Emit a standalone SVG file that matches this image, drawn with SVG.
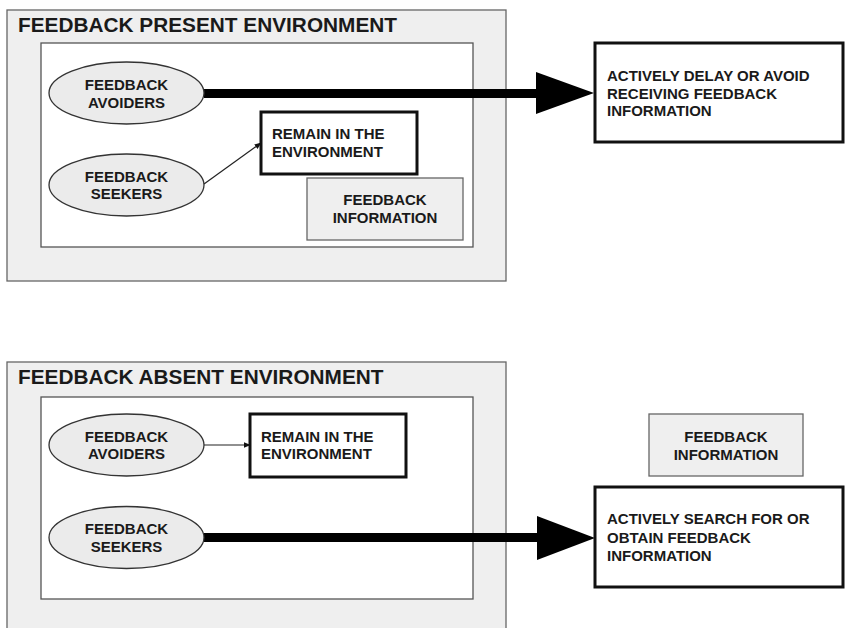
<svg xmlns="http://www.w3.org/2000/svg" width="845" height="628" viewBox="0 0 845 628">
<defs>
<style>
text{font-family:"Liberation Sans",Arial,sans-serif;font-weight:bold;fill:#1a1a1a}
.title{font-size:20.8px}
.t{font-size:15px}
.env{fill:#efefef;stroke:#666;stroke-width:1.3}
.inner{fill:#fff;stroke:#555;stroke-width:1.3}
.ell{fill:#ebebeb;stroke:#333;stroke-width:1.3}
.box{fill:#fff;stroke:#111;stroke-width:3}
.info{fill:#efefef;stroke:#666;stroke-width:1.3}
.thick{stroke:#000;stroke-width:9;fill:none}
.thin{stroke:#222;stroke-width:1.2;fill:none}
</style>
<marker id="sm" viewBox="0 0 10 10" refX="9" refY="5" markerWidth="7" markerHeight="7" markerUnits="userSpaceOnUse" orient="auto">
<path d="M0,1 L10,5 L0,9 z" fill="#111"/>
</marker>
</defs>
<rect width="845" height="628" fill="#fff"/>

<g id="present-env">
<rect class="env" x="7" y="10" width="499" height="271"/>
<text class="title" x="18" y="32">FEEDBACK PRESENT ENVIRONMENT</text>
<rect class="inner" x="41" y="43" width="432" height="204"/>
</g>
<g id="absent-env">
<rect class="env" x="7" y="362" width="499" height="270"/>
<text class="title" x="18" y="384">FEEDBACK ABSENT ENVIRONMENT</text>
<rect class="inner" x="41" y="397" width="432" height="202"/>
</g>

<g id="connectors">
<line class="thick" x1="204" y1="93.5" x2="538" y2="93.5"/>
<polygon points="536,72 594,93 536,114" fill="#000"/>
<line class="thin" x1="204" y1="184" x2="261" y2="143" marker-end="url(#sm)"/>
<line class="thin" x1="204" y1="445" x2="250" y2="445" marker-end="url(#sm)"/>
<line class="thick" x1="204" y1="537.5" x2="539" y2="537.5"/>
<polygon points="537,516 595,538 537,560" fill="#000"/>
</g>

<g id="p-avoiders">
<ellipse class="ell" cx="126.5" cy="93" rx="77.5" ry="31"/>
<text class="t" x="126.5" y="90" text-anchor="middle">FEEDBACK</text>
<text class="t" x="126.5" y="108" text-anchor="middle">AVOIDERS</text>
</g>
<g id="p-seekers">
<ellipse class="ell" cx="126.5" cy="185" rx="77.5" ry="31"/>
<text class="t" x="126.5" y="182" text-anchor="middle">FEEDBACK</text>
<text class="t" x="126.5" y="199" text-anchor="middle">SEEKERS</text>
</g>
<g id="p-remain">
<rect class="box" x="261" y="112" width="156" height="62"/>
<text class="t" x="272" y="139">REMAIN IN THE</text>
<text class="t" x="272" y="157">ENVIRONMENT</text>
</g>
<g id="p-info">
<rect class="info" x="307" y="178" width="156" height="62"/>
<text class="t" x="385" y="205" text-anchor="middle">FEEDBACK</text>
<text class="t" x="385" y="223" text-anchor="middle">INFORMATION</text>
</g>
<g id="p-avoid-box">
<rect class="box" x="595" y="43" width="248" height="99"/>
<text class="t" x="607" y="81">ACTIVELY DELAY OR AVOID</text>
<text class="t" x="607" y="98.5">RECEIVING FEEDBACK</text>
<text class="t" x="607" y="116">INFORMATION</text>
</g>

<g id="a-avoiders">
<ellipse class="ell" cx="126.5" cy="445" rx="77.5" ry="31"/>
<text class="t" x="126.5" y="442" text-anchor="middle">FEEDBACK</text>
<text class="t" x="126.5" y="459" text-anchor="middle">AVOIDERS</text>
</g>
<g id="a-seekers">
<ellipse class="ell" cx="126.5" cy="537.5" rx="77.5" ry="31"/>
<text class="t" x="126.5" y="534" text-anchor="middle">FEEDBACK</text>
<text class="t" x="126.5" y="552" text-anchor="middle">SEEKERS</text>
</g>
<g id="a-remain">
<rect class="box" x="250" y="414" width="156" height="63"/>
<text class="t" x="261" y="442">REMAIN IN THE</text>
<text class="t" x="261" y="459">ENVIRONMENT</text>
</g>
<g id="a-info">
<rect class="info" x="649" y="414" width="154" height="62"/>
<text class="t" x="726" y="442" text-anchor="middle">FEEDBACK</text>
<text class="t" x="726" y="460" text-anchor="middle">INFORMATION</text>
</g>
<g id="a-search-box">
<rect class="box" x="595" y="487" width="248" height="100"/>
<text class="t" x="607" y="524">ACTIVELY SEARCH FOR OR</text>
<text class="t" x="607" y="542.5">OBTAIN FEEDBACK</text>
<text class="t" x="607" y="561">INFORMATION</text>
</g>
</svg>
